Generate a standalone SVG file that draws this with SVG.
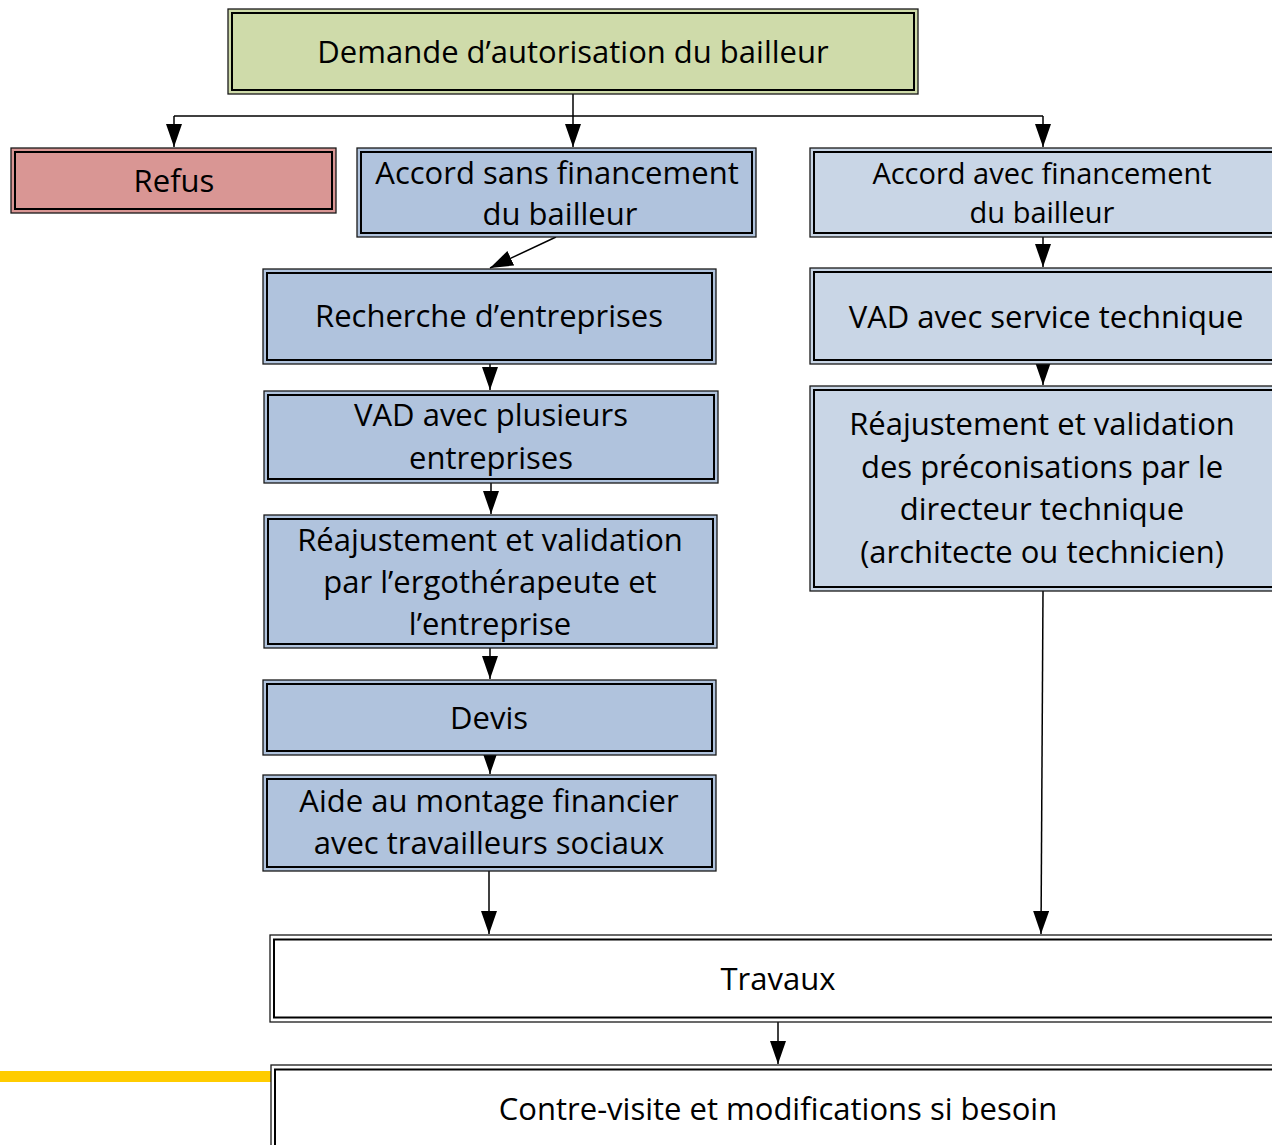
<svg xmlns="http://www.w3.org/2000/svg" width="1272" height="1145" viewBox="0 0 1272 1145">
<style>
.o{stroke:#1a1a1a;stroke-width:1.3}
.i{fill:none;stroke:#000;stroke-width:2}
.t{font-family:"Open Sans","Liberation Sans",sans-serif;font-size:31px;fill:#000;text-anchor:middle}
.s{font-size:29px}
.c{fill:none;stroke:#000;stroke-width:1.5}
.g{fill:#cfdbaa}.r{fill:#d99694}.b{fill:#b0c3dd}.l{fill:#c9d6e6}.w{fill:#fff}
</style>
<defs>
<marker id="a" markerUnits="userSpaceOnUse" markerWidth="23" markerHeight="16" viewBox="0 0 23 16" refX="23" refY="8" orient="auto">
<path d="M0,0 L23,8 L0,16 Z" fill="#000"/>
</marker>
</defs>
<rect x="0" y="1071" width="271" height="11" fill="#ffcc00"/>
<g id="connectors">
<path class="c" d="M573,94 V147" marker-end="url(#a)"/>
<path class="c" d="M174,116 H1043"/>
<path class="c" d="M174,116 V147" marker-end="url(#a)"/>
<path class="c" d="M1043,116 V147" marker-end="url(#a)"/>
<path class="c" d="M556,237 L490,268" marker-end="url(#a)"/>
<path class="c" d="M490,364 V390" marker-end="url(#a)"/>
<path class="c" d="M491,483 V514" marker-end="url(#a)"/>
<path class="c" d="M490,648 V679" marker-end="url(#a)"/>
<path class="c" d="M490,755 V774" marker-end="url(#a)"/>
<path class="c" d="M489,871 V934" marker-end="url(#a)"/>
<path class="c" d="M1043,237 V267" marker-end="url(#a)"/>
<path class="c" d="M1043,364 V385" marker-end="url(#a)"/>
<path class="c" d="M1043,591 L1041,934" marker-end="url(#a)"/>
<path class="c" d="M778,1022 V1064" marker-end="url(#a)"/>
</g>
<g id="demande"><rect class="o g" x="228" y="9" width="690" height="85"/><rect class="i" x="232" y="13" width="682" height="77"/><text class="t" x="573" y="63">Demande d’autorisation du bailleur</text></g>
<g id="refus"><rect class="o r" x="11" y="148" width="325" height="65"/><rect class="i" x="15" y="152" width="317" height="57"/><text class="t" x="174" y="192">Refus</text></g>
<g id="accord-sans"><rect class="o b" x="357" y="148" width="399" height="89"/><rect class="i" x="361" y="152" width="391" height="81"/><text class="t" x="557" y="184">Accord sans financement</text><text class="t" x="560" y="225">du bailleur</text></g>
<g id="accord-avec"><rect class="o l" x="810" y="148" width="470" height="89"/><rect class="i" x="814" y="152" width="462" height="81"/><text class="t s" x="1042" y="184">Accord avec financement</text><text class="t s" x="1042" y="223">du bailleur</text></g>
<g id="recherche"><rect class="o b" x="263" y="269" width="453" height="95"/><rect class="i" x="267" y="273" width="445" height="87"/><text class="t" x="489" y="327">Recherche d’entreprises</text></g>
<g id="vad-plusieurs"><rect class="o b" x="264" y="391" width="454" height="92"/><rect class="i" x="268" y="395" width="446" height="84"/><text class="t" x="491" y="426">VAD avec plusieurs</text><text class="t" x="491" y="469">entreprises</text></g>
<g id="reajustement-ergo"><rect class="o b" x="264" y="515" width="453" height="133"/><rect class="i" x="268" y="519" width="445" height="125"/><text class="t" x="490" y="551">Réajustement et validation</text><text class="t" x="490" y="593">par l’ergothérapeute et</text><text class="t" x="490" y="635">l’entreprise</text></g>
<g id="devis"><rect class="o b" x="263" y="680" width="453" height="75"/><rect class="i" x="267" y="684" width="445" height="67"/><text class="t" x="489" y="729">Devis</text></g>
<g id="aide"><rect class="o b" x="263" y="775" width="453" height="96"/><rect class="i" x="267" y="779" width="445" height="88"/><text class="t" x="489" y="812">Aide au montage financier</text><text class="t" x="489" y="854">avec travailleurs sociaux</text></g>
<g id="vad-service"><rect class="o l" x="810" y="268" width="470" height="96"/><rect class="i" x="814" y="272" width="462" height="88"/><text class="t" x="1046" y="328">VAD avec service technique</text></g>
<g id="reajustement-directeur"><rect class="o l" x="810" y="386" width="470" height="205"/><rect class="i" x="814" y="390" width="462" height="197"/><text class="t" x="1042" y="435">Réajustement et validation</text><text class="t" x="1042" y="478">des préconisations par le</text><text class="t" x="1042" y="520">directeur technique</text><text class="t" x="1042" y="563">(architecte ou technicien)</text></g>
<g id="travaux"><rect class="o w" x="270" y="935" width="1010" height="87"/><rect class="i" x="274" y="939.5" width="1002" height="78"/><text class="t" x="778" y="990">Travaux</text></g>
<g id="contre-visite"><rect class="o w" x="271" y="1065" width="1010" height="100"/><rect class="i" x="275" y="1069.5" width="1002" height="100"/><text class="t" x="778" y="1120">Contre-visite et modifications si besoin</text></g>
</svg>
